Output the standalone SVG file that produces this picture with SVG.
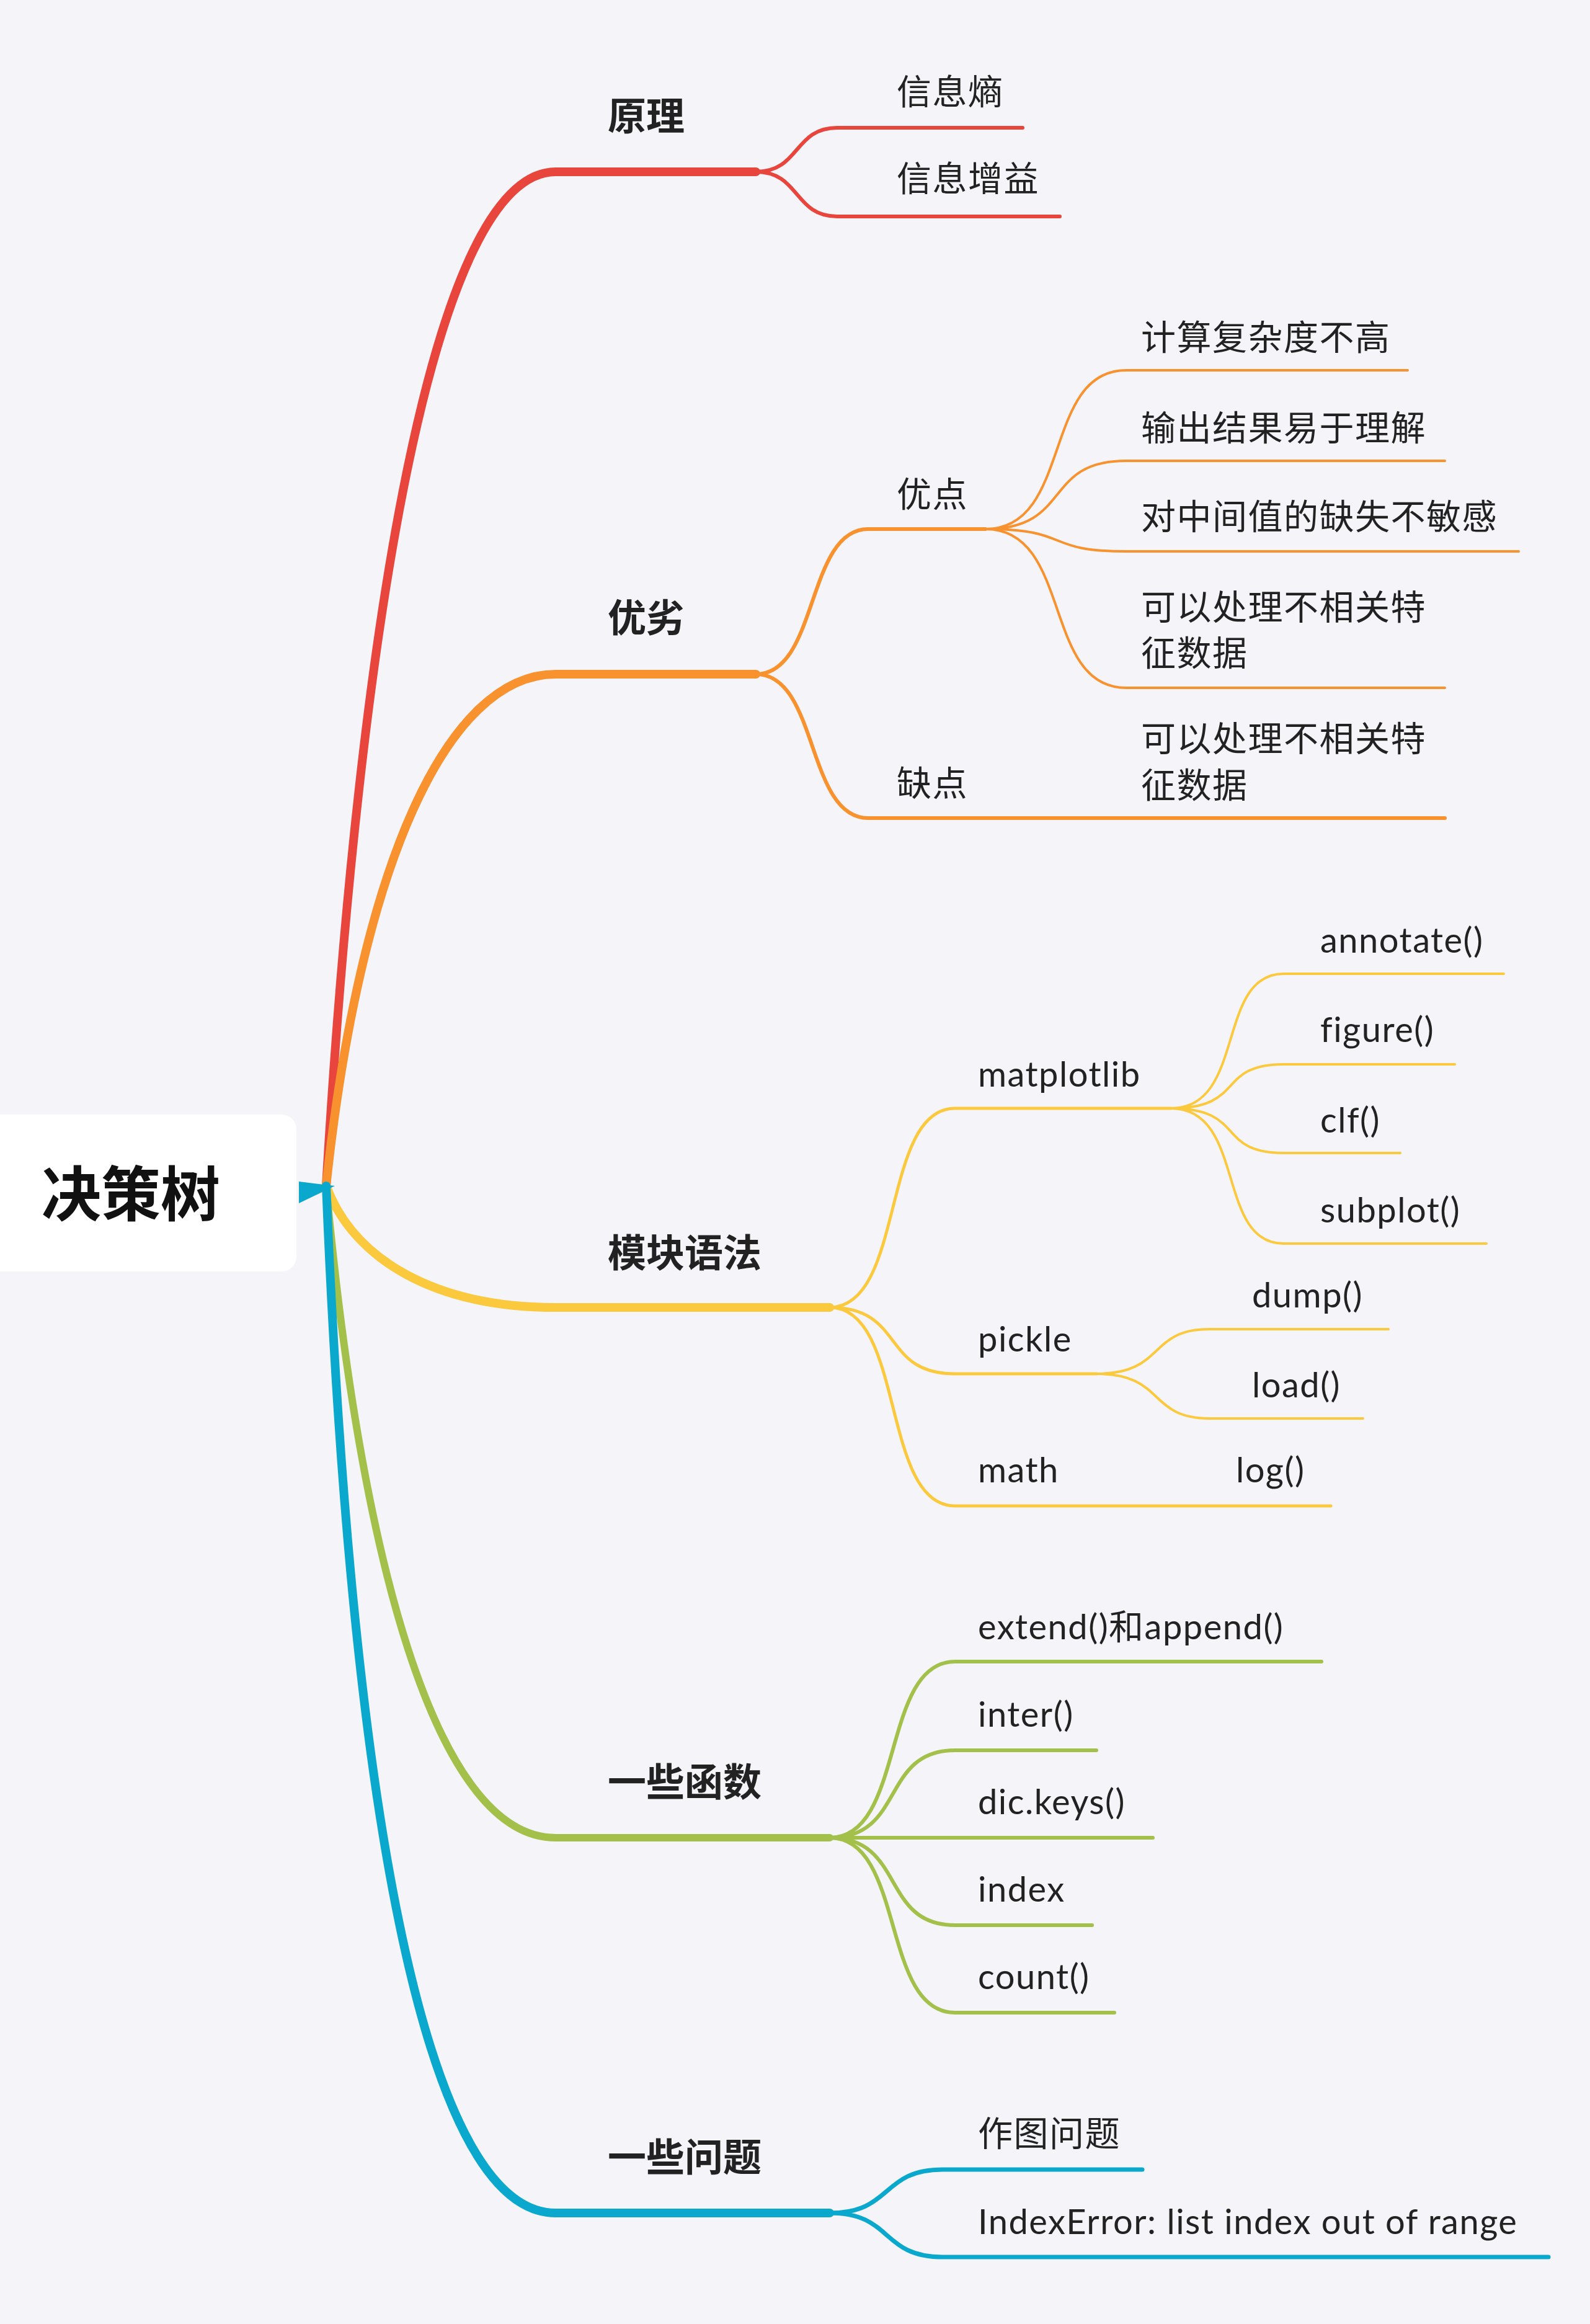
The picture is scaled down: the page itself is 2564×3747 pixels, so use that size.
<svg xmlns="http://www.w3.org/2000/svg" width="2564" height="3747" viewBox="0 0 2564 3747">
<style>
.t{font-family:"Lato","Noto Sans CJK SC",sans-serif;font-size:56px;letter-spacing:1.5px;fill:#222}
.m{font-family:"Noto Sans CJK SC",sans-serif;font-size:62px;font-weight:bold;fill:#222}
.c{fill:none;stroke-linecap:round}
.r{stroke:#e8453c}.o{stroke:#f7922f}.y{stroke:#fbc93d}.g{stroke:#a3c14a}.b{stroke:#0aa8cc}
</style>
<rect width="2564" height="3747" fill="#f4f4f9"/>
<g id="connectors">
<path class="c r" stroke-width="14" d="M526 1912 C580 1000 700 277 896 277 L1219 277"/>
<path class="c o" stroke-width="14" d="M526 1912 C580 1400 720 1087 896 1087 L1219 1087"/>
<path class="c y" stroke-width="14" d="M526 1912 C570 2030 700 2108 896 2108 L1338 2108"/>
<path class="c g" stroke-width="12" d="M526 1912 C580 2500 700 2963 896 2963 L1338 2963"/>
<path class="c b" stroke-width="14" d="M526 1912 C570 3000 700 3568 896 3568 L1338 3568"/>
<path fill="#0aa8cc" d="M482 1905 L540 1912 L482 1940 Z"/>
<g stroke-width="6" class="c r">
<path d="M1219 277 C1290 277 1280 206 1350 206 L1649 206"/>
<path d="M1219 277 C1290 277 1280 349 1350 349 L1709 349"/>
</g>
<g stroke-width="6" class="c o">
<path d="M1219 1087 C1320 1087 1300 853 1400 853 L1589 853"/>
<path d="M1219 1087 C1320 1087 1300 1319 1400 1319 L2330 1319"/>
</g>
<g stroke-width="4" class="c o">
<path d="M1589 853 C1730 853 1680 597 1816 597 L2270 597"/>
<path d="M1589 853 C1730 853 1680 743 1816 743 L2330 743"/>
<path d="M1589 853 C1730 853 1680 889 1816 889 L2449 889"/>
<path d="M1589 853 C1730 853 1680 1109 1816 1109 L2330 1109"/>
</g>
<g stroke-width="5" class="c y">
<path d="M1338 2108 C1460 2108 1420 1787 1540 1787 L1888 1787"/>
<path d="M1338 2108 C1460 2108 1420 2215 1540 2215 L1768 2215"/>
<path d="M1338 2108 C1460 2108 1420 2428 1540 2428 L2146 2428"/>
</g>
<g stroke-width="4" class="c y">
<path d="M1888 1787 C2010 1787 1960 1570 2070 1570 L2425 1570"/>
<path d="M1888 1787 C2010 1787 1960 1716 2070 1716 L2346 1716"/>
<path d="M1888 1787 C2010 1787 1960 1859 2070 1859 L2258 1859"/>
<path d="M1888 1787 C2010 1787 1960 2005 2070 2005 L2397 2005"/>
<path d="M1768 2215 C1880 2215 1850 2143 1950 2143 L2239 2143"/>
<path d="M1768 2215 C1880 2215 1850 2287 1950 2287 L2198 2287"/>
</g>
<g stroke-width="6" class="c g">
<path d="M1338 2963 C1460 2963 1420 2679 1540 2679 L2131 2679"/>
<path d="M1338 2963 C1460 2963 1420 2822 1540 2822 L1768 2822"/>
<path d="M1338 2963 L1859 2963"/>
<path d="M1338 2963 C1460 2963 1420 3104 1540 3104 L1761 3104"/>
<path d="M1338 2963 C1460 2963 1420 3245 1540 3245 L1797 3245"/>
</g>
<g stroke-width="7" class="c b">
<path d="M1338 3568 C1440 3568 1420 3498 1520 3498 L1842 3498"/>
<path d="M1338 3568 C1440 3568 1420 3639 1520 3639 L2497 3639"/>
</g>
</g>
<g id="root"><rect x="-20" y="1797" width="498" height="253" rx="24" fill="#fff"/>
<text x="67" y="1960" font-family="Noto Sans CJK SC,sans-serif" font-size="96" font-weight="bold" fill="#111">决策树</text></g>
<g id="n1"><text class="m" x="980" y="210">原理</text></g>
<g id="n1a"><text class="t" x="1446" y="168">信息熵</text></g>
<g id="n1b"><text class="t" x="1446" y="308">信息增益</text></g>
<g id="n2"><text class="m" x="980" y="1019">优劣</text></g>
<g id="n2a"><text class="t" x="1446" y="817">优点</text></g>
<g id="n2a1"><text class="t" x="1840" y="564">计算复杂度不高</text></g>
<g id="n2a2"><text class="t" x="1840" y="710">输出结果易于理解</text></g>
<g id="n2a3"><text class="t" x="1840" y="853">对中间值的缺失不敏感</text></g>
<g id="n2a4"><text class="t" x="1840" y="999">可以处理不相关特</text><text class="t" x="1840" y="1073">征数据</text></g>
<g id="n2b"><text class="t" x="1446" y="1283">缺点</text></g>
<g id="n2b1"><text class="t" x="1840" y="1211">可以处理不相关特</text><text class="t" x="1840" y="1286">征数据</text></g>
<g id="n3"><text class="m" x="980" y="2043">模块语法</text></g>
<g id="n3a"><text class="t" x="1577" y="1752">matplotlib</text></g>
<g id="n3a1"><text class="t" x="2129" y="1536">annotate()</text></g>
<g id="n3a2"><text class="t" x="2129" y="1680">figure()</text></g>
<g id="n3a3"><text class="t" x="2129" y="1826">clf()</text></g>
<g id="n3a4"><text class="t" x="2129" y="1971">subplot()</text></g>
<g id="n3b"><text class="t" x="1577" y="2179">pickle</text></g>
<g id="n3b1"><text class="t" x="2019" y="2108">dump()</text></g>
<g id="n3b2"><text class="t" x="2019" y="2253">load()</text></g>
<g id="n3c"><text class="t" x="1577" y="2390">math</text></g>
<g id="n3c1"><text class="t" x="1993" y="2390">log()</text></g>
<g id="n4"><text class="m" x="980" y="2896">一些函数</text></g>
<g id="n4a"><text class="t" x="1577" y="2643">extend()和append()</text></g>
<g id="n4b"><text class="t" x="1577" y="2784">inter()</text></g>
<g id="n4c"><text class="t" x="1577" y="2925">dic.keys()</text></g>
<g id="n4d"><text class="t" x="1577" y="3066">index</text></g>
<g id="n4e"><text class="t" x="1577" y="3207">count()</text></g>
<g id="n5"><text class="m" x="980" y="3501">一些问题</text></g>
<g id="n5a"><text class="t" x="1577" y="3460">作图问题</text></g>
<g id="n5b"><text class="t" x="1577" y="3602">IndexError: list index out of range</text></g>
</svg>
